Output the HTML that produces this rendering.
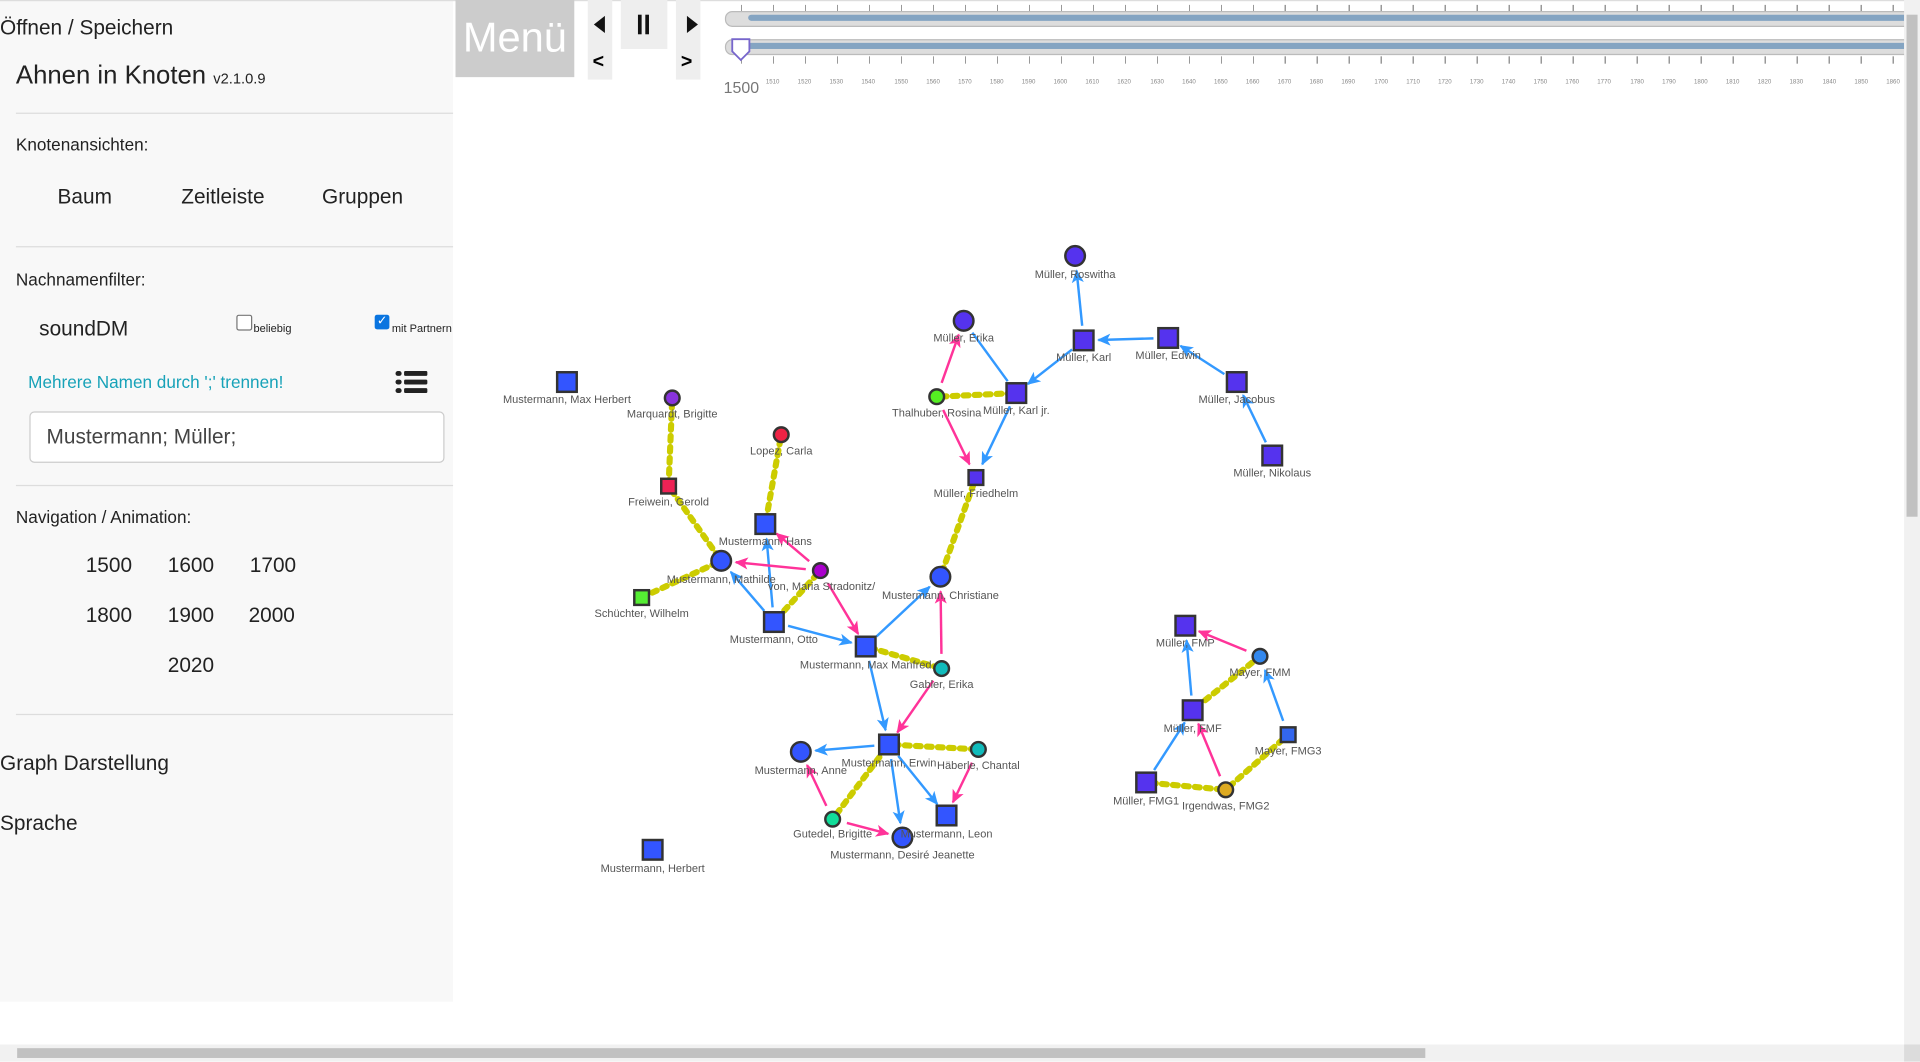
<!DOCTYPE html>
<html><head><meta charset="utf-8"><style>
html,body{margin:0;padding:0;width:1920px;height:1062px;overflow:hidden;background:#fff;font-family:"Liberation Sans",sans-serif}
#w{position:absolute;left:0;top:0;width:1568px;height:867px;transform:scale(1.22449);transform-origin:0 0}
.a{position:absolute;white-space:nowrap}
#side{position:absolute;left:0;top:0;width:370px;height:818px;background:#f8f8f8}
.hr{position:absolute;left:13px;width:357px;height:1px;background:#ddd}
.t{color:#222}
.yl{position:absolute;top:64px;font-size:5px;color:#888;transform:translateX(-50%)}
.lb{font-family:"Liberation Sans",sans-serif;font-size:9px;fill:#555;text-anchor:middle}
</style></head><body><div id="w">
<div id="side">
<div class="a t" style="left:0;top:13px;font-size:17px">Öffnen / Speichern</div>
<div class="a t" style="left:13px;top:50px;font-size:21px">Ahnen in Knoten <span style="font-size:12px">v2.1.0.9</span></div>
<div class="hr" style="top:92px"></div>
<div class="a t" style="left:13px;top:110px;font-size:14px">Knotenansichten:</div>
<div class="a t" style="left:47px;top:151px;font-size:17px">Baum</div>
<div class="a t" style="left:148px;top:151px;font-size:17px">Zeitleiste</div>
<div class="a t" style="left:263px;top:151px;font-size:17px">Gruppen</div>
<div class="hr" style="top:201px"></div>
<div class="a t" style="left:13px;top:220px;font-size:14px">Nachnamenfilter:</div>
<div class="a t" style="left:32px;top:259px;font-size:17px">soundDM</div>
<div class="a" style="left:193px;top:257px;width:11px;height:11px;border:1px solid #777;border-radius:2px;background:#fff"></div>
<div class="a t" style="left:207px;top:263px;font-size:9px">beliebig</div>
<div class="a" style="left:306px;top:257px;width:12px;height:12px;border-radius:2px;background:#0a75e0;color:#fff;font-size:10px;line-height:12px;text-align:center">✓</div>
<div class="a t" style="left:320px;top:263px;font-size:9px">mit Partnern</div>
<div class="a" style="left:23px;top:304px;font-size:14px;color:#17a2b8">Mehrere Namen durch ';' trennen!</div>
<div class="a" style="left:323px;top:303px;width:26px;height:18px">
<div class="a" style="left:0;top:0;width:5px;height:4px;background:#222;border-radius:2px"></div><div class="a" style="left:7px;top:0;width:19px;height:4px;background:#222;border-radius:1px"></div>
<div class="a" style="left:0;top:7px;width:5px;height:4px;background:#222;border-radius:2px"></div><div class="a" style="left:7px;top:7px;width:19px;height:4px;background:#222;border-radius:1px"></div>
<div class="a" style="left:0;top:14px;width:5px;height:4px;background:#222;border-radius:2px"></div><div class="a" style="left:7px;top:14px;width:19px;height:4px;background:#222;border-radius:1px"></div></div>
<div class="a" style="left:24px;top:336px;width:337px;height:40px;border:1px solid #ccc;border-radius:4px;background:#fff"></div>
<div class="a" style="left:38px;top:347px;font-size:17px;color:#444">Mustermann; Müller;</div>
<div class="hr" style="top:396px"></div>
<div class="a t" style="left:13px;top:414px;font-size:14px">Navigation / Animation:</div>
<div class="a t" style="left:70px;top:452px;font-size:17px">1500</div>
<div class="a t" style="left:137px;top:452px;font-size:17px">1600</div>
<div class="a t" style="left:204px;top:452px;font-size:17px">1700</div>
<div class="a t" style="left:70px;top:493px;font-size:17px">1800</div>
<div class="a t" style="left:137px;top:493px;font-size:17px">1900</div>
<div class="a t" style="left:203px;top:493px;font-size:17px">2000</div>
<div class="a t" style="left:137px;top:534px;font-size:17px">2020</div>
<div class="hr" style="top:583px"></div>
<div class="a t" style="left:0;top:614px;font-size:17px">Graph Darstellung</div>
<div class="a t" style="left:0;top:663px;font-size:17px">Sprache</div>
</div>
<div class="a" style="left:0;top:0;width:1568px;height:1px;background:#ddd"></div>
<div class="a" style="left:372px;top:0;width:97px;height:63px;background:#ccc;color:#fff;font-size:34px;line-height:63px;text-align:center">Menü</div>
<div class="a" style="left:480px;top:0;width:20px;height:65px;background:#eee"></div>
<div class="a" style="left:485px;top:13px;width:0;height:0;border-top:7px solid transparent;border-bottom:7px solid transparent;border-right:9px solid #111"></div>
<div class="a" style="left:484px;top:42px;font-size:16px;font-weight:bold">&lt;</div>
<div class="a" style="left:507px;top:0;width:38px;height:40px;background:#eee"></div>
<div class="a" style="left:521px;top:12px;width:3px;height:16px;background:#111"></div><div class="a" style="left:527px;top:12px;width:3px;height:16px;background:#111"></div>
<div class="a" style="left:552px;top:0;width:20px;height:65px;background:#eee"></div>
<div class="a" style="left:561px;top:13px;width:0;height:0;border-top:7px solid transparent;border-bottom:7px solid transparent;border-left:9px solid #111"></div>
<div class="a" style="left:556px;top:42px;font-size:16px;font-weight:bold">&gt;</div>
<div class="a" style="left:605px;top:4px;width:950px;height:5px;background:repeating-linear-gradient(90deg,#999 0 1px,transparent 1px 26.13px)"></div>
<div class="a" style="left:592px;top:9px;width:963px;height:11px;background:#ddd;border:1px solid #bbb;border-radius:6px 0 0 6px"></div>
<div class="a" style="left:611px;top:12px;width:944px;height:5px;background:#84a4c2;border-radius:3px 0 0 3px"></div>
<div class="a" style="left:592px;top:32px;width:963px;height:11px;background:#ddd;border:1px solid #bbb;border-radius:6px 0 0 6px"></div>
<div class="a" style="left:600px;top:35px;width:955px;height:5px;background:#84a4c2"></div>
<div class="a" style="left:605px;top:46px;width:950px;height:6px;background:repeating-linear-gradient(90deg,#999 0 1px,transparent 1px 26.13px)"></div>
<svg class="a" style="left:596px;top:30px" width="20" height="22"><path d="M2 2H16V12L9 19L2 12Z" fill="#fff" stroke="#7766cc" stroke-width="1.5"/></svg>
<div class="a" style="left:591px;top:64px;font-size:13px;color:#777">1500</div>
<div class="yl" style="left:631px">1510</div><div class="yl" style="left:657px">1520</div><div class="yl" style="left:683px">1530</div><div class="yl" style="left:709px">1540</div><div class="yl" style="left:736px">1550</div><div class="yl" style="left:762px">1560</div><div class="yl" style="left:788px">1570</div><div class="yl" style="left:814px">1580</div><div class="yl" style="left:840px">1590</div><div class="yl" style="left:866px">1600</div><div class="yl" style="left:892px">1610</div><div class="yl" style="left:918px">1620</div><div class="yl" style="left:945px">1630</div><div class="yl" style="left:971px">1640</div><div class="yl" style="left:997px">1650</div><div class="yl" style="left:1023px">1660</div><div class="yl" style="left:1049px">1670</div><div class="yl" style="left:1075px">1680</div><div class="yl" style="left:1101px">1690</div><div class="yl" style="left:1128px">1700</div><div class="yl" style="left:1154px">1710</div><div class="yl" style="left:1180px">1720</div><div class="yl" style="left:1206px">1730</div><div class="yl" style="left:1232px">1740</div><div class="yl" style="left:1258px">1750</div><div class="yl" style="left:1284px">1760</div><div class="yl" style="left:1310px">1770</div><div class="yl" style="left:1337px">1780</div><div class="yl" style="left:1363px">1790</div><div class="yl" style="left:1389px">1800</div><div class="yl" style="left:1415px">1810</div><div class="yl" style="left:1441px">1820</div><div class="yl" style="left:1467px">1830</div><div class="yl" style="left:1494px">1840</div><div class="yl" style="left:1520px">1850</div><div class="yl" style="left:1546px">1860</div>

<svg class="a" style="left:0;top:0" width="1555" height="850">
<defs>
<marker id="mb" viewBox="0 0 10 10" refX="9" refY="5" markerWidth="5.5" markerHeight="5.5" orient="auto"><path d="M0 0.5L10 5L0 9.5L2.5 5Z" fill="#3399ff"/></marker>
<marker id="mp" viewBox="0 0 10 10" refX="9" refY="5" markerWidth="5.5" markerHeight="5.5" orient="auto"><path d="M0 0.5L10 5L0 9.5L2.5 5Z" fill="#ff3399"/></marker>
</defs>
<g id="edges"></g>
<g stroke="#333" stroke-width="2">
<circle cx="878" cy="209" r="8" fill="#5533ee"/>
<rect x="877" y="270" width="16" height="16" fill="#5533ee"/>
<rect x="946" y="268" width="16" height="16" fill="#5533ee"/>
<rect x="1002" y="304" width="16" height="16" fill="#5533ee"/>
<rect x="1031" y="364" width="16" height="16" fill="#5533ee"/>
<circle cx="787" cy="262" r="8" fill="#5533ee"/>
<circle cx="765" cy="324" r="6" fill="#55ee22"/>
<rect x="822" y="313" width="16" height="16" fill="#5533ee"/>
<rect x="791" y="384" width="12" height="12" fill="#5533ee"/>
<rect x="455" y="304" width="16" height="16" fill="#3355ff"/>
<circle cx="549" cy="325" r="6" fill="#8833dd"/>
<circle cx="638" cy="355" r="6" fill="#ee2244"/>
<rect x="540" y="391" width="12" height="12" fill="#ee2255"/>
<rect x="617" y="420" width="16" height="16" fill="#3355ff"/>
<circle cx="589" cy="458" r="8" fill="#3355ff"/>
<circle cx="670" cy="466" r="6" fill="#aa00cc"/>
<rect x="518" y="482" width="12" height="12" fill="#55ee33"/>
<rect x="624" y="500" width="16" height="16" fill="#3355ff"/>
<circle cx="768" cy="471" r="8" fill="#3355ff"/>
<rect x="699" y="520" width="16" height="16" fill="#3355ff"/>
<circle cx="769" cy="546" r="6" fill="#11bbbb"/>
<rect x="718" y="600" width="16" height="16" fill="#3355ff"/>
<circle cx="799" cy="612" r="6" fill="#11bbbb"/>
<circle cx="654" cy="614" r="8" fill="#3355ff"/>
<circle cx="680" cy="669" r="6" fill="#11dd99"/>
<rect x="765" y="658" width="16" height="16" fill="#3355ff"/>
<circle cx="737" cy="684" r="8" fill="#3355ff"/>
<rect x="525" y="686" width="16" height="16" fill="#3355ff"/>
<rect x="960" y="503" width="16" height="16" fill="#5533ee"/>
<circle cx="1029" cy="536" r="6" fill="#3388ee"/>
<rect x="966" y="572" width="16" height="16" fill="#5533ee"/>
<rect x="1046" y="594" width="12" height="12" fill="#3366ee"/>
<rect x="928" y="631" width="16" height="16" fill="#5533ee"/>
<circle cx="1001" cy="645" r="6" fill="#ddaa22"/>
</g>
<g class="lb">
<text class="lb" x="878" y="227">Müller, Roswitha</text>
<text class="lb" x="885" y="295">Müller, Karl</text>
<text class="lb" x="954" y="293">Müller, Edwin</text>
<text class="lb" x="1010" y="329">Müller, Jacobus</text>
<text class="lb" x="1039" y="389">Müller, Nikolaus</text>
<text class="lb" x="787" y="279">Müller, Erika</text>
<text class="lb" x="765" y="340">Thalhuber, Rosina</text>
<text class="lb" x="830" y="338">Müller, Karl jr.</text>
<text class="lb" x="797" y="406">Müller, Friedhelm</text>
<text class="lb" x="463" y="329">Mustermann, Max Herbert</text>
<text class="lb" x="549" y="341">Marquardt, Brigitte</text>
<text class="lb" x="638" y="371">Lopez, Carla</text>
<text class="lb" x="546" y="413">Freiwein, Gerold</text>
<text class="lb" x="625" y="445">Mustermann, Hans</text>
<text class="lb" x="589" y="476">Mustermann, Mathilde</text>
<text class="lb" x="671" y="482">von, Maria Stradonitz/</text>
<text class="lb" x="524" y="504">Schüchter, Wilhelm</text>
<text class="lb" x="632" y="525">Mustermann, Otto</text>
<text class="lb" x="768" y="489">Mustermann, Christiane</text>
<text class="lb" x="707" y="546">Mustermann, Max Manfred</text>
<text class="lb" x="769" y="562">Gabler, Erika</text>
<text class="lb" x="726" y="626">Mustermann, Erwin</text>
<text class="lb" x="799" y="628">Häberle, Chantal</text>
<text class="lb" x="654" y="632">Mustermann, Anne</text>
<text class="lb" x="680" y="684">Gutedel, Brigitte</text>
<text class="lb" x="773" y="684">Mustermann, Leon</text>
<text class="lb" x="737" y="701">Mustermann, Desiré Jeanette</text>
<text class="lb" x="533" y="712">Mustermann, Herbert</text>
<text class="lb" x="968" y="528">Müller, FMP</text>
<text class="lb" x="1029" y="552">Mayer, FMM</text>
<text class="lb" x="974" y="598">Müller, FMF</text>
<text class="lb" x="1052" y="616">Mayer, FMG3</text>
<text class="lb" x="936" y="657">Müller, FMG1</text>
<text class="lb" x="1001" y="661">Irgendwas, FMG2</text>
</g>
</svg>
<div class="a" style="left:1555px;top:0;width:13px;height:853px;background:#f1f1f1"></div>
<div class="a" style="left:1557px;top:12px;width:9px;height:410px;background:#c1c1c1"></div>
<div class="a" style="left:0;top:853px;width:1555px;height:14px;background:#f1f1f1"></div>
<div class="a" style="left:14px;top:856px;width:1150px;height:8px;background:#c1c1c1"></div>
<div class="a" style="left:1555px;top:853px;width:13px;height:14px;background:#dcdcdc"></div>
</div>
<script>
var P={ros:[878,209],karl:[885,278],edw:[954,276],jac:[1010,312],nik:[1039,372],eri:[787,262],tha:[765,324],kj:[830,321],fri:[797,390],mar:[549,325],lop:[638,355],frw:[546,397],han:[625,428],mat:[589,458],mst:[670,466],sch:[524,488],ott:[632,508],chr:[768,471],mm:[707,528],gab:[769,546],erw:[726,608],hab:[799,612],ann:[654,614],gut:[680,669],leo:[773,666],des:[737,684],fmp:[968,511],fmm:[1029,536],fmf:[974,580],g3:[1052,600],g1:[936,639],g2:[1001,645]};
var Y=[["mar","frw"],["frw","mat"],["mat","sch"],["lop","han"],["mst","ott"],["chr","fri"],["tha","kj"],["mm","gab"],["erw","hab"],["erw","gut"],["fmf","fmm"],["g1","g2"],["g2","g3"]];
var B=[["karl","ros"],["edw","karl"],["jac","edw"],["nik","jac"],["eri","kj",1],["karl","kj"],["kj","fri"],["ott","han"],["ott","mat"],["ott","mm"],["mm","chr"],["mm","erw"],["erw","ann"],["erw","des"],["erw","leo"],["fmf","fmp"],["g1","fmf"],["g3","fmm"]];
var K=[["tha","eri"],["tha","fri"],["mst","mat"],["mst","han"],["mst","mm"],["gab","chr"],["gab","erw"],["hab","leo"],["gut","ann"],["gut","des"],["fmm","fmp"],["g2","fmf"]];
var s="";
function L(a,b,st,m,noarr){var p=P[a],q=P[b],dx=q[0]-p[0],dy=q[1]-p[1],d=Math.sqrt(dx*dx+dy*dy),o1=m?12:4,o2=m?12:4;
s+='<line x1="'+(p[0]+dx/d*o1)+'" y1="'+(p[1]+dy/d*o1)+'" x2="'+(q[0]-dx/d*o2)+'" y2="'+(q[1]-dy/d*o2)+'" '+st+(m&&!noarr?' marker-end="url(#'+m+')"':'')+'/>';}
Y.forEach(function(e){L(e[0],e[1],'stroke="#cccc00" stroke-width="5" stroke-dasharray="4 5" stroke-linecap="round"');});
B.forEach(function(e){L(e[0],e[1],'stroke="#3399ff" stroke-width="2"',"mb",e[2]);});
K.forEach(function(e){L(e[0],e[1],'stroke="#ff3399" stroke-width="2"',"mp");});
document.getElementById("edges").innerHTML=s;
</script>
</body></html>
